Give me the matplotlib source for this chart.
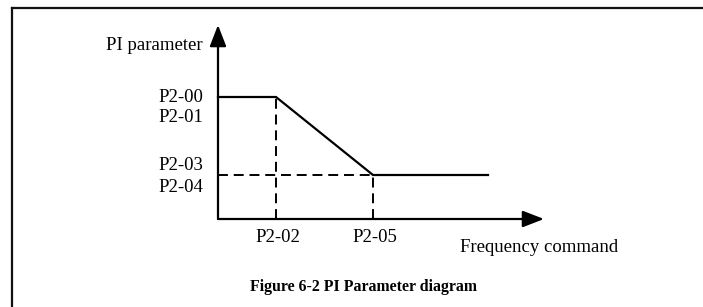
import matplotlib.pyplot as plt
from matplotlib.lines import Line2D

# break points on the frequency axis and the two PI levels
freq_names = ['P2-02', 'P2-05']
freq_points = [58, 155]
freq_end = 270
high_names = ['P2-00', 'P2-01']
low_names = ['P2-03', 'P2-04']
pi_high = 122
pi_low = 44

x_max = 326
y_max = 194

plt.rcParams['font.family'] = ['Liberation Serif', 'DejaVu Serif']

fig = plt.figure(figsize=(7.03, 3.07), dpi=100)
W, H = 703, 307
# 1 data unit = 1 pixel, origin at (218, 219) from top-left
ax = fig.add_axes([218 / W, (H - 219) / H, x_max / W, y_max / H])
ax.set_xlim(0, x_max)
ax.set_ylim(0, y_max)
ax.axis('off')

# frame of the figure box (top and left edges only)
fig.add_artist(Line2D([12 / W, 702 / W], [1 - 8 / H, 1 - 8 / H], color='#111111', lw=1.6))
fig.add_artist(Line2D([12 / W, 12 / W], [0, 1 - 8 / H], color='#111111', lw=1.6))

# axes with arrows
arrow = dict(arrowstyle='-|>,head_length=0.93,head_width=0.36', mutation_scale=14,
             lw=1.6, color='black', shrinkA=0, shrinkB=0)
ax.annotate('', xy=(x_max, 0), xytext=(0, 0), arrowprops=arrow, annotation_clip=False)
ax.annotate('', xy=(0, y_max), xytext=(0, 0), arrowprops=arrow, annotation_clip=False)

# PI parameter curve
ax.plot([0, freq_points[0], freq_points[1], freq_end], [pi_high, pi_high, pi_low, pi_low],
        color='black', lw=1.6, clip_on=False, solid_joinstyle='miter')

# guide lines
dash = dict(color='black', lw=1.4, dashes=(5.1, 3.0), clip_on=False)
ax.plot([freq_points[0], freq_points[0]], [0, pi_high], **dash)
ax.plot([freq_points[1], freq_points[1]], [0, pi_low], **dash)
ax.plot([0, freq_points[1]], [pi_low, pi_low], **dash)

fs = 13.5
ax.text(-15, pi_high, high_names[0], ha='right', va='center', fontsize=fs)
ax.text(-15, pi_high - 21, high_names[1], ha='right', va='center', fontsize=fs)
ax.text(-15, pi_low + 10, low_names[0], ha='right', va='center', fontsize=fs)
ax.text(-15, pi_low - 12, low_names[1], ha='right', va='center', fontsize=fs)
for name, f in zip(freq_names, freq_points):
    ax.text(f + 2, -18, name, ha='center', va='center', fontsize=fs)

ax.text(-15, y_max - 20, 'PI parameter', ha='right', va='center', fontsize=fs)
ax.text(242, -28, 'Frequency command', ha='left', va='center', fontsize=fs)

fig.text(363 / W, 1 - 287 / H, 'Figure 6-2 PI Parameter diagram', ha='center', va='center',
         fontsize=11.4, fontweight='bold')

fig.savefig('out.png', dpi=100)
